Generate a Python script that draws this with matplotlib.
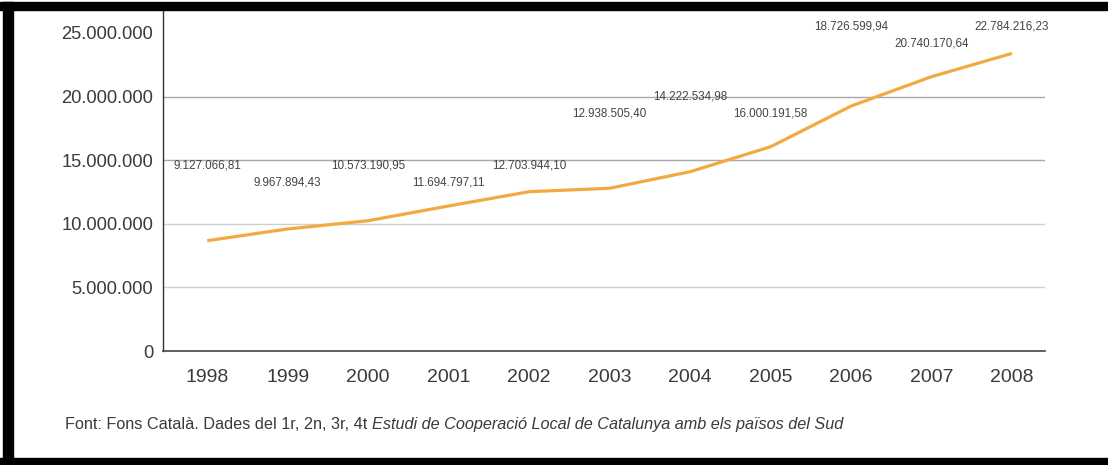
import matplotlib.pyplot as plt
from matplotlib.patches import Rectangle

# dades de la gràfica
anys = [1998, 1999, 2000, 2001, 2002, 2003, 2004, 2005, 2006, 2007, 2008]
# valors tal com es veuen dibuixats a la línia
valors = [8.67e6, 9.59e6, 10.24e6, 11.40e6, 12.52e6, 12.79e6,
          14.09e6, 16.05e6, 19.25e6, 21.56e6, 23.39e6]
etiquetes = ["9.127.066,81", "9.967.894,43", "10.573.190,95", "11.694.797,11",
             "12.703.944,10", "12.938.505,40", "14.222.534,98", "16.000.191,58",
             "18.726.599,94", "20.740.170,64", "22.784.216,23"]
yticks = [0, 5e6, 10e6, 15e6, 20e6, 25e6]
ytick_labels = ["0", "5.000.000", "10.000.000", "15.000.000", "20.000.000", "25.000.000"]
font_normal = "Font: Fons Català. Dades del 1r, 2n, 3r, 4t "
font_italic = "Estudi de Cooperació Local de Catalunya amb els països del Sud"

# on va cada etiqueta (alçada en unitats de l'eix)
label_y = [14.54e6, 13.28e6, 14.54e6, 13.28e6, 14.54e6, 18.70e6,
           20.04e6, 18.70e6, 25.54e6, 24.20e6, 25.54e6]

FAM = ["Liberation Sans", "DejaVu Sans"]
TXT = "#3a3a3a"

fig = plt.figure(figsize=(11.08, 4.65), dpi=100)
ax = fig.add_axes([163 / 1108, 1 - 351 / 465, (1045 - 163) / 1108, (351 - 10) / 465])

ax.plot(anys, valors, color="#F2AA40", linewidth=2.3, solid_capstyle="butt", zorder=3)

for x, yl, txt in zip(anys, label_y, etiquetes):
    ax.text(x, yl, txt, ha="center", va="center", fontsize=8.4,
            family=FAM, color="#444444")

ax.set_xlim(1997.45, 2008.41)
ax.set_ylim(0, 26.8e6)
ax.set_xticks(anys)
ax.set_xticklabels([str(a) for a in anys], family=FAM, fontsize=14, color=TXT)
ax.set_yticks(yticks)
ax.set_yticklabels(ytick_labels, family=FAM, fontsize=13.2, color=TXT)
ax.tick_params(axis="both", length=0)
ax.tick_params(axis="x", pad=13)
ax.tick_params(axis="y", pad=7)

ax.grid(axis="y", linewidth=1.0, zorder=0)
ax.set_axisbelow(True)
grid_cols = ["none", "#cfcfcf", "#cfcfcf", "#a8a8a8", "#a8a8a8", "none"]
for gl, c in zip(ax.get_ygridlines(), grid_cols):
    if c == "none":
        gl.set_visible(False)
    else:
        gl.set_color(c)

for s in ["top", "right"]:
    ax.spines[s].set_visible(False)
ax.spines["left"].set_color("#333333")
ax.spines["bottom"].set_color("#444444")
ax.spines["left"].set_linewidth(1.0)
ax.spines["bottom"].set_linewidth(1.2)

# nota de font, part normal + part en cursiva
t1 = fig.text(65 / 1108, 1 - 424 / 465, font_normal, ha="left", va="center",
              fontsize=11.7, family=FAM, color=TXT)
fig.canvas.draw()
bb = t1.get_window_extent()
fig.text(bb.x1 / fig.bbox.width, 1 - 424 / 465, font_italic, ha="left", va="center",
         fontsize=11.7, family=FAM, style="italic", color=TXT)

# marc negre
W, H = 1108, 465
for (x0, y0, w, h) in [(0, 2, W, 8), (3, 2, 10, 463), (0, 458, W, 7)]:
    fig.patches.append(Rectangle((x0 / W, 1 - (y0 + h) / H), w / W, h / H,
                                 transform=fig.transFigure, color="black", zorder=10))

fig.savefig("out.png", dpi=100)
